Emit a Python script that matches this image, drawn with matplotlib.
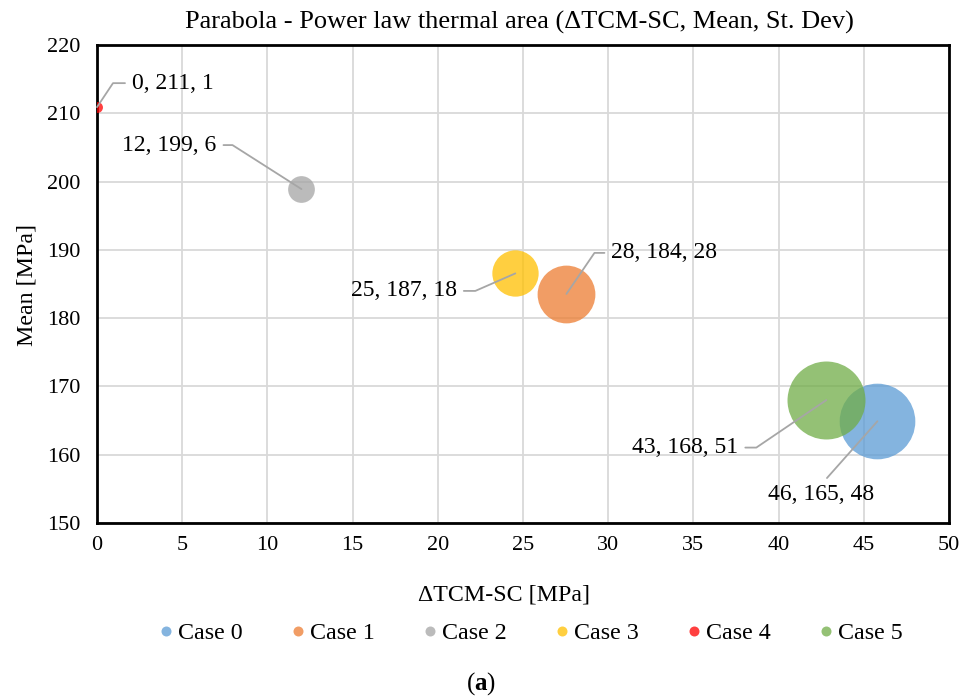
import math
import matplotlib
matplotlib.use("Agg")
import matplotlib.pyplot as plt
from matplotlib.lines import Line2D

plt.rcParams['font.family'] = ['Liberation Serif', 'DejaVu Serif']
plt.rcParams['mathtext.fontset'] = 'custom'
plt.rcParams['mathtext.rm'] = 'Liberation Serif'
plt.rcParams['mathtext.bf'] = 'Liberation Serif:bold'

# ---- data -------------------------------------------------------------
cases = ["Case 0", "Case 1", "Case 2", "Case 3", "Case 4", "Case 5"]
delta_tcm_sc = [45.8, 27.55, 12.0, 24.55, 0.0, 42.8]      # x  [MPa]
mean_stress = [164.9, 183.55, 198.9, 186.55, 210.9, 168.0]  # y  [MPa]
st_dev = [48, 28, 6, 18, 1, 51]                            # bubble size
colors = ["#5B9BD5", "#ED7D31", "#A5A5A5", "#FFC000", "#FF0000", "#70AD47"]

x_ticks = [0, 5, 10, 15, 20, 25, 30, 35, 40, 45, 50]
y_ticks = [150, 160, 170, 180, 190, 200, 210, 220]

title = "Parabola - Power law thermal area (ΔTCM-SC, Mean, St. Dev)"
x_label = "ΔTCM-SC [MPa]"
y_label = "Mean [MPa]"

# ---- layout -------------------------------------------------------------
W, H = 962, 700
FS_TITLE = 19
FS_TICK = 16
FS_LABEL = 17
FS_AXIS = 17.2
FS_LEGEND = 17.3
fig = plt.figure(figsize=(W / 100, H / 100), dpi=100)
left, right, top, bottom = 97, 949, 45, 523
ax = fig.add_axes([left / W, 1 - bottom / H, (right - left) / W, (bottom - top) / H])

ax.set_xlim(x_ticks[0], x_ticks[-1])
ax.set_ylim(y_ticks[0], y_ticks[-1])
ax.set_xticks(x_ticks)
ax.set_yticks(y_ticks)
ax.grid(True, color="#D9D9D9", lw=1.3)
ax.set_axisbelow(True)
ax.tick_params(length=0, labelsize=FS_TICK)
ax.tick_params(axis="x", pad=9.5)
ax.tick_params(axis="y", pad=12)
for sp in ax.spines.values():
    sp.set_color("black")
    sp.set_linewidth(2.0)

# bubble area proportional to the standard deviation
AREA_PER_UNIT = 61.8
ALPHA = 0.75
for xv, yv, sv, c in zip(delta_tcm_sc, mean_stress, st_dev, colors):
    ax.scatter([xv], [yv], s=sv * AREA_PER_UNIT, color=c, alpha=ALPHA,
               linewidths=0, zorder=3)

# data labels with leader lines: (bend dx, bend dy, horizontal run) in pixels
leader = {
    "Case 1": (28, 41, 10),
    "Case 2": (-69, 44, -9),
    "Case 3": (-40, -17.5, -11.5),
    "Case 4": (16, 24, 12),
    "Case 5": (-70, -47.5, -11),
}
GAP = 7
line_col = "#A6A6A6"
for name, xv, yv, sv in zip(cases, delta_tcm_sc, mean_stress, st_dev):
    text = f"{xv:.0f}, {yv:.0f}, {sv:.0f}"
    if name in leader:
        bdx, bdy, run = leader[name]
        side = 1 if run > 0 else -1
        tdx = bdx + run + side * GAP
        ang = math.degrees(math.atan2(bdy, bdx))
        ax.annotate(text, xy=(xv, yv), xytext=(tdx, bdy), textcoords="offset pixels",
                    ha="left" if side > 0 else "right", va="center", fontsize=FS_LABEL,
                    zorder=5,
                    arrowprops=dict(arrowstyle="-", color=line_col, lw=1.3,
                                    shrinkA=GAP * 0.72, shrinkB=0, patchA=None,
                                    relpos=(0 if side > 0 else 1, 0.5),
                                    connectionstyle=f"angle,angleA=0,angleB={ang},rad=0"))
    else:
        ax.annotate(text, xy=(xv, yv), xytext=(-56, -63), textcoords="offset pixels",
                    ha="center", va="top", fontsize=FS_LABEL, zorder=5,
                    arrowprops=dict(arrowstyle="-", color=line_col, lw=1.3,
                                    shrinkA=6, shrinkB=0, patchA=None,
                                    relpos=(0.5, 1.0), connectionstyle="arc3"))

# titles
fig.text(519 / W, 1 - 22 / H, title, ha="center", va="center", fontsize=FS_TITLE)
fig.text(504 / W, 1 - 595 / H, x_label, ha="center", va="center", fontsize=FS_AXIS)
fig.text(27 / W, 1 - 285 / H, y_label, ha="center", va="center", rotation=90,
         fontsize=FS_AXIS)

# legend
handles = [Line2D([], [], ls="none", marker="o", markersize=7.2, color=c, alpha=ALPHA,
                  markeredgewidth=0) for c in colors]
fig.legend(handles, cases, loc="center", bbox_to_anchor=(531 / W, 1 - 633 / H),
           ncol=6, frameon=False, fontsize=FS_LEGEND, handlelength=0.6,
           handletextpad=0.2, columnspacing=2.0, borderaxespad=0, borderpad=0)

fig.text(481 / W, 1 - 684 / H, r"($\mathbf{a}$)", ha="center", va="center",
         fontsize=18)

fig.savefig("out.png", dpi=100)
